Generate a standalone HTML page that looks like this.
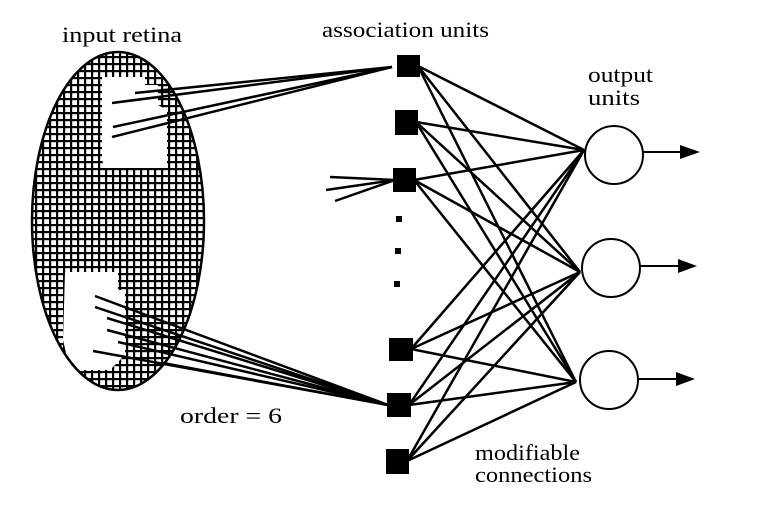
<!DOCTYPE html>
<html><head><meta charset="utf-8"><style>
html,body{margin:0;padding:0;background:#fff;}
svg{display:block;}
</style></head><body>
<svg width="764" height="517" viewBox="0 0 764 517" xmlns="http://www.w3.org/2000/svg">
<defs>
<pattern id="g" x="0" y="0" width="7" height="7" patternUnits="userSpaceOnUse">
<rect width="7" height="7" fill="#fff"/>
<rect width="7" height="2.2" fill="#000"/>
<rect width="2.2" height="7" fill="#000"/>
</pattern>
<clipPath id="ec"><ellipse cx="118" cy="221" rx="86" ry="169"/></clipPath>
</defs>
<g font-family="'Liberation Serif', 'DejaVu Serif', serif" fill="#000" font-size="22">
<text x="62" y="42" textLength="120" lengthAdjust="spacingAndGlyphs">input retina</text>
<text x="322" y="37" textLength="167" lengthAdjust="spacingAndGlyphs">association units</text>
<text x="588" y="82" textLength="65" lengthAdjust="spacingAndGlyphs">output</text>
<text x="588" y="105" textLength="52" lengthAdjust="spacingAndGlyphs">units</text>
<text x="180" y="423" textLength="102" lengthAdjust="spacingAndGlyphs">order = 6</text>
<text x="475" y="460" textLength="105" lengthAdjust="spacingAndGlyphs">modifiable</text>
<text x="475" y="482" textLength="117" lengthAdjust="spacingAndGlyphs">connections</text>
</g>

<g clip-path="url(#ec)">
<rect x="30" y="50" width="180" height="345" fill="url(#g)"/>
<polygon points="102,77 145,77 145,85 158,85 158,105 167,110 167,168 105,168 102,160" fill="#fff"/>
<polygon points="65,272 118,272 118,290 125,290 125,355 110,370 70,370 63,340" fill="#fff"/>
</g>
<ellipse cx="118" cy="221" rx="86" ry="169" fill="none" stroke="#000" stroke-width="2.5"/>

<g stroke="#000" stroke-width="2.5" fill="none">
<line x1="112" y1="103" x2="392" y2="67"/>
<line x1="135" y1="93" x2="392" y2="67"/>
<line x1="113" y1="127" x2="392" y2="67"/>
<line x1="112" y1="137" x2="392" y2="67"/>
<line x1="330" y1="177" x2="395" y2="180"/>
<line x1="326" y1="190" x2="395" y2="180"/>
<line x1="335" y1="201" x2="395" y2="180"/>
<line x1="95" y1="296" x2="388" y2="405"/>
<line x1="95" y1="307" x2="388" y2="405"/>
<line x1="107" y1="318" x2="388" y2="405"/>
<line x1="107" y1="330" x2="388" y2="405"/>
<line x1="118" y1="342" x2="388" y2="405"/>
<line x1="93" y1="351" x2="388" y2="405"/>
<line x1="163" y1="363" x2="388" y2="405"/>
</g>

<g stroke="#000" stroke-width="2.5">
<line x1="418" y1="66" x2="584" y2="150"/><line x1="418" y1="66" x2="580" y2="272"/><line x1="418" y1="66" x2="576" y2="382"/>
<line x1="416" y1="122" x2="584" y2="150"/><line x1="416" y1="122" x2="580" y2="272"/><line x1="416" y1="122" x2="576" y2="382"/>
<line x1="414" y1="180" x2="584" y2="150"/><line x1="414" y1="180" x2="580" y2="272"/><line x1="414" y1="180" x2="576" y2="382"/>
<line x1="411" y1="349" x2="584" y2="150"/><line x1="411" y1="349" x2="580" y2="272"/><line x1="411" y1="349" x2="576" y2="382"/>
<line x1="409" y1="405" x2="584" y2="150"/><line x1="409" y1="405" x2="580" y2="272"/><line x1="409" y1="405" x2="576" y2="382"/>
<line x1="407" y1="461" x2="584" y2="150"/><line x1="407" y1="461" x2="580" y2="272"/><line x1="407" y1="461" x2="576" y2="382"/>
</g>

<g fill="#000">
<rect x="397" y="55" width="23" height="22"/>
<rect x="395" y="110" width="23" height="25"/>
<rect x="393" y="168" width="23" height="24"/>
<rect x="396" y="216" width="6" height="6"/>
<rect x="395" y="248" width="6" height="6"/>
<rect x="394" y="281" width="6" height="6"/>
<rect x="389" y="338" width="24" height="23"/>
<rect x="387" y="393" width="24" height="24"/>
<rect x="386" y="449" width="23" height="25"/>
</g>

<g stroke="#000" stroke-width="2" fill="#fff">
<circle cx="614" cy="155" r="29"/>
<circle cx="611" cy="268" r="29"/>
<circle cx="609" cy="380" r="29"/>
</g>
<g stroke="#000" stroke-width="2">
<line x1="643" y1="152" x2="685" y2="152"/>
<line x1="640" y1="266" x2="683" y2="266"/>
<line x1="638" y1="379" x2="681" y2="379"/>
</g>
<g fill="#000">
<polygon points="680,145 700,152 680,159"/>
<polygon points="678,259 697,266 678,273"/>
<polygon points="676,372 695,379 676,386"/>
</g>
</svg>
</body></html>
